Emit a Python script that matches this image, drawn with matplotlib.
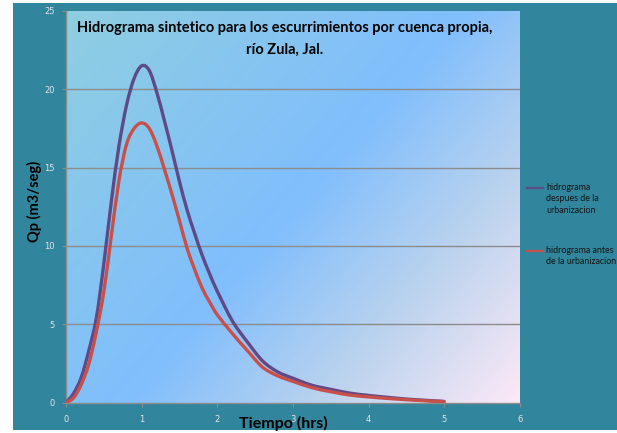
import numpy as np
import matplotlib
matplotlib.use("Agg")
import matplotlib.pyplot as plt
from matplotlib.colors import LinearSegmentedColormap
from matplotlib.lines import Line2D
from matplotlib.patches import Rectangle, PathPatch
from matplotlib.path import Path

# ---- data ----
tiempo = [0, 0.1, 0.2, 0.3, 0.4, 0.5, 0.6, 0.7, 0.8, 0.9, 1.0, 1.1, 1.2, 1.3,
          1.4, 1.5, 1.6, 1.7, 1.8, 1.9, 2.0, 2.2, 2.4, 2.6, 2.8, 3.0, 3.25,
          3.5, 3.75, 4.0, 4.25, 4.5, 4.75, 5.0]
q_despues = [0, 0.59, 1.6, 3.3, 5.4, 8.9, 12.9, 16.4, 19.0, 20.7, 21.5, 21.2,
             19.8, 18.0, 16.1, 14.1, 12.3, 10.8, 9.4, 8.2, 7.1, 5.2, 3.85,
             2.65, 1.95, 1.55, 1.1, 0.84, 0.6, 0.45, 0.33, 0.22, 0.14, 0.07]
q_antes = [0, 0.3, 1.15, 2.45, 4.5, 7.1, 10.7, 14.2, 16.5, 17.5, 17.85, 17.5,
           16.4, 14.9, 13.3, 11.6, 9.85, 8.5, 7.3, 6.4, 5.6, 4.4, 3.3, 2.25,
           1.7, 1.35, 0.95, 0.69, 0.48, 0.36, 0.26, 0.18, 0.11, 0.05]
series_labels = ["hidrograma\ndespues de la\nurbanizacion",
                 "hidrograma antes\nde la urbanizacion"]
series_colors = ["#5E4A86", "#C8504B"]
x_ticks = [0, 1, 2, 3, 4, 5, 6]
y_ticks = [0, 5, 10, 15, 20, 25]
title = "Hidrograma sintetico para los escurrimientos por cuenca propia,\nrío Zula, Jal."
xlabel = "Tiempo (hrs)"
ylabel = "Qp (m3/seg)"


def smooth_path(xs, ys):
    """Excel-style smoothed line: cubic Bezier segments through the data points."""
    p = np.column_stack([xs, ys]).astype(float)
    n = len(p)
    verts = [p[0]]
    codes = [Path.MOVETO]
    for i in range(n - 1):
        p0 = p[i - 1] if i > 0 else p[i]
        p1 = p[i]
        p2 = p[i + 1]
        p3 = p[i + 2] if i + 2 < n else p[i + 1]
        c1 = p1 + (p2 - p0) / 6.0
        c2 = p2 - (p3 - p1) / 6.0
        verts += [c1, c2, p2]
        codes += [Path.CURVE4] * 3
    return Path(np.array(verts), codes)


W, H = 617, 433
fig = plt.figure(figsize=(W / 100, H / 100), dpi=100)
fig.patch.set_facecolor("white")
# teal chart area
fig.add_artist(Rectangle((13 / W, 1 - 430 / H), (W - 13) / W, 427 / H,
                         transform=fig.transFigure, facecolor="#31859C",
                         edgecolor="none", zorder=0))

left, right = 66.1 / W, 519.7 / W
bottom, top = 1 - 402.5 / H, 1 - 11 / H
ax = fig.add_axes([left, bottom, right - left, top - bottom])
ax.set_facecolor("none")

# gradient plot-area background
aw, ah = 453.6, 391.5
nx, ny = 300, 260
xx, yy = np.meshgrid(np.linspace(0, aw, nx), np.linspace(0, ah, ny))
u = (xx * aw + yy * ah) / (aw * aw + ah * ah)  # yy measured from top
cmap = LinearSegmentedColormap.from_list(
    "bg", [(0.0, "#8FCEE0"), (0.5, "#80BEFD"), (0.75, "#BBD3EE"), (1.0, "#FCE9F7")])
ax.imshow(u, cmap=cmap, extent=[0, 1, 0, 1], transform=ax.transAxes,
          aspect="auto", origin="upper", zorder=0, interpolation="bilinear")

ax.set_xlim(0, 6)
ax.set_ylim(0, 25)
ax.set_xticks(x_ticks)
ax.set_yticks(y_ticks)
ax.set_xticklabels([str(v) for v in x_ticks])
ax.set_yticklabels([str(v) for v in y_ticks])
for yv in y_ticks[1:-1]:
    ax.axhline(yv, color="#8C8C8C", lw=1.0, zorder=1)

for sp in ["top", "right"]:
    ax.spines[sp].set_visible(False)
for sp in ["left", "bottom"]:
    ax.spines[sp].set_color("#8C8C8C")
    ax.spines[sp].set_linewidth(1.0)
ax.tick_params(axis="both", direction="out", length=3, width=0.8,
               color="#8C8C8C", labelsize=6, labelcolor="#E6E6E6")
ax.tick_params(axis="x", pad=6)
ax.tick_params(axis="y", pad=5)

for xs, ys, col, z in [(tiempo, q_despues, series_colors[0], 3),
                       (tiempo, q_antes, series_colors[1], 4)]:
    patch = PathPatch(smooth_path(xs, ys), facecolor="none", edgecolor=col,
                      lw=2.4, zorder=z, capstyle="round", joinstyle="round",
                      transform=ax.transData)
    ax.add_patch(patch)

fam = ["Lato", "DejaVu Sans"]
fig.text(285 / W, 1 - 39 / H, title, ha="center", va="center", fontsize=10.5,
         fontweight="bold", family=fam, linespacing=1.75, color="black")
fig.text(283 / W, 1 - 423.5 / H, xlabel, ha="center", va="center", fontsize=11.5,
         fontweight="bold", family=fam, color="black")
fig.text(34 / W, 1 - 201 / H, ylabel, ha="center", va="center", fontsize=10.5,
         fontweight="bold", family=fam, rotation=90, color="black")

# legend
leg_y = [188, 251]
for lab, col, yp in zip(series_labels, series_colors, leg_y):
    fig.add_artist(Line2D([527 / W, 543 / W], [1 - yp / H, 1 - yp / H],
                          color=col, lw=1.6, transform=fig.transFigure))
    fig.text(546 / W, 1 - (yp - 5) / H, lab, ha="left", va="top", fontsize=6.4,
             family=fam, color="#141414", linespacing=1.35)

fig.savefig("out.png", dpi=100, facecolor=fig.get_facecolor())
